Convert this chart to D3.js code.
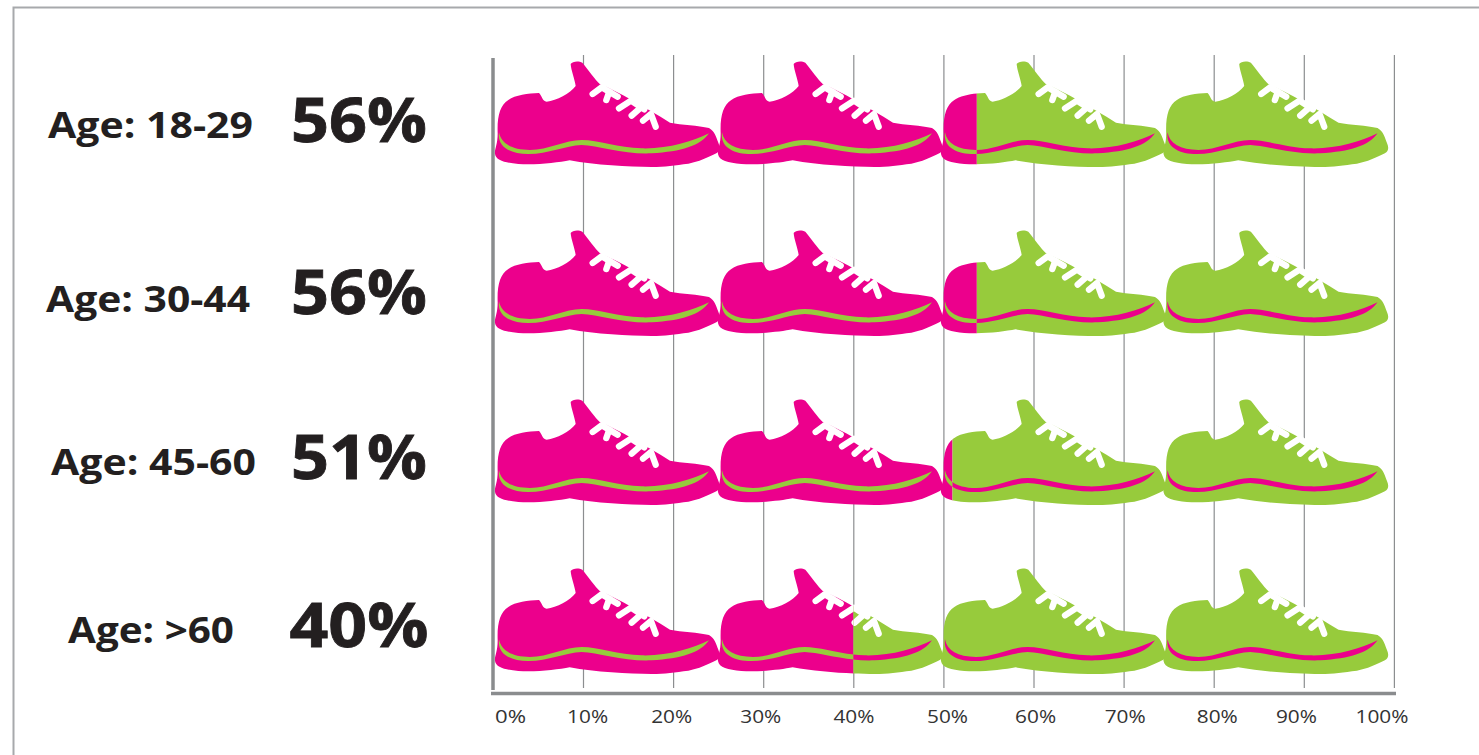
<!DOCTYPE html>
<html><head><meta charset="utf-8">
<script src="https://cdn.jsdelivr.net/npm/d3@7"></script>
<style>html,body{margin:0;background:#fff}svg{display:block}text{font-family:"Open Sans",sans-serif}</style>
</head><body><svg id="c" width="1479" height="755"></svg>
<script>
const ageLabels=["Age: 18-29","Age: 30-44","Age: 45-60","Age: >60"];
const shownPercent=["56%","56%","51%","40%"];
const drawnFill=[53.7,53.7,51,40];
const tickValues=[0,10,20,30,40,50,60,70,80,90,100];
const shoeStarts=[0,24.75,49.5,74.2];
const rowIndex=[0,1,2,3];
const PINK="#ec008c",GREEN="#97cb3c";

const svg=d3.select("#c");
const x=d3.scaleLinear().domain([0,100]).range([493,1394]);
const y=d3.scaleLinear().domain([0,3]).range([61,568]);

svg.append("path").attr("d","M13.5,755V7.5H1479").attr("fill","none").attr("stroke","#a7a9ac").attr("stroke-width",2);

const outline="M30,312C28,298 38,285 38,250C36,200 45,165 70,150C90,135 130,130 162,129C170,135 172,155 185,155C215,152 255,130 272,108C270,90 258,60 257,42C262,33 282,32 292,38C310,60 330,88 345,103C400,125 480,172 555,218C590,225 640,226 672,234C690,245 694,262 700,278C706,292 706,304 694,310C670,322 640,336 610,341C570,346 540,351 500,351C430,351 330,345 254,331C220,338 150,346 100,342C60,338 33,332 30,312Z";
const stripe="M42,247C48,280 80,300 135,300C190,300 240,270 290,270C340,270 400,293 470,295C550,297 620,275 672,250C645,288 590,305 500,310C420,314 340,287 290,285C240,287 190,312 130,312C75,312 36,290 42,247Z";
const laces=["M323,132L350,112L398,140","M373,125L364,150","M402,175L438,152L478,178","M440,197L468,172","M474,212L498,192L512,230"];

const grid=svg.append("g");
grid.selectAll("line").data(tickValues.slice(1)).join("line")
 .attr("x1",d=>x(d)+0.4).attr("x2",d=>x(d)+0.4).attr("y1",55).attr("y2",688)
 .attr("stroke","#8c8e90").attr("stroke-width",1.2);
svg.append("line").attr("x1",x(0)).attr("x2",x(0)).attr("y1",58).attr("y2",690).attr("stroke","#8a8c8e").attr("stroke-width",3.5);
svg.append("line").attr("x1",491).attr("x2",1396).attr("y1",693.5).attr("y2",693.5).attr("stroke","#8a8c8e").attr("stroke-width",3.5);

const defs=svg.append("defs");
const K=1/3;
const ageBase=[138,312,475,643], ageMid=[150.5,148,153.5,151], ageWidth=[205,204,205,166];
const pctBase=[142,314,479,647], pctWidth=[136,136,136,139];
rowIndex.forEach(r=>{
  const g=svg.append("g").attr("class","row");
  defs.append("clipPath").attr("id","a"+r).append("rect").attr("x",0).attr("y",y(r)-20).attr("width",x(drawnFill[r])).attr("height",150);
  defs.append("clipPath").attr("id","b"+r).append("rect").attr("x",x(drawnFill[r])).attr("y",y(r)-20).attr("width",1479).attr("height",150);
  [["a"+r,PINK,GREEN],["b"+r,GREEN,PINK]].forEach(([id,body,sole])=>{
    const lay=g.append("g").attr("clip-path",`url(#${id})`);
    shoeStarts.forEach(s=>{
      const t=lay.append("g").attr("transform",`translate(${x(s)-8},${y(r)-11}) scale(${K})`);
      t.append("path").attr("d",outline).attr("fill",body);
      t.append("path").attr("d",stripe).attr("fill",sole);
      t.selectAll("path.l").data(laces).join("path").attr("class","l").attr("d",d=>d).attr("fill","none").attr("stroke","#fff").attr("stroke-width",19).attr("stroke-linecap","round").attr("stroke-linejoin","round");
    });
  });
  svg.append("text").attr("x",ageMid[r]).attr("y",ageBase[r]).attr("text-anchor","middle").attr("font-size",35).attr("font-weight",700).attr("fill","#231f20")
    .attr("textLength",ageWidth[r]).attr("lengthAdjust","spacingAndGlyphs").text(ageLabels[r]);
  svg.append("text").attr("x",359).attr("y",pctBase[r]).attr("text-anchor","middle").attr("font-size",60).attr("font-weight",700).attr("fill","#231f20")
    .attr("stroke","#231f20").attr("stroke-width",0.8)
    .attr("textLength",pctWidth[r]).attr("lengthAdjust","spacingAndGlyphs").text(shownPercent[r]);
});

const labelNudge=[17,4,-2,-3,0,3.5,1.5,1,3,-8,-12.5];
const ax=svg.append("g").attr("transform","translate(0,693)").call(d3.axisBottom(x).tickValues(tickValues).tickFormat(d=>d+"%").tickSize(0));
ax.select(".domain").remove();
ax.selectAll("text").attr("dx",(d,i)=>labelNudge[i]).attr("y",17).attr("dy","0.71em").attr("font-size",18).attr("font-family","Open Sans").attr("fill","#333")
  .attr("textLength",d=>d===0?31:d===100?53:41).attr("lengthAdjust","spacingAndGlyphs");
</script></body></html>
